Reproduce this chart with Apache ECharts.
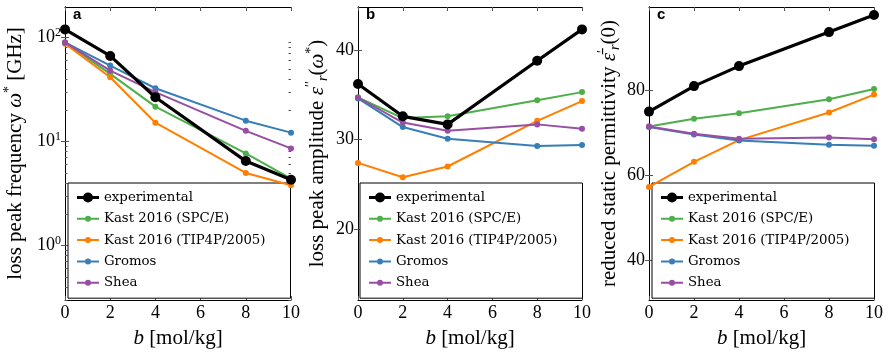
<!DOCTYPE html>
<html>
<head>
<meta charset="utf-8">
<script src="https://cdn.jsdelivr.net/npm/echarts@6/dist/echarts.min.js"></script>
<style>html,body{margin:0;padding:0;background:#fff}#chart{width:896px;height:352px}</style>
</head>
<body>
<div id="chart"></div>
<script>
// ---- data ----
const bValues = [0, 2, 4, 8, 10];
const seriesNames = ['experimental', 'Kast 2016 (SPC/E)', 'Kast 2016 (TIP4P/2005)', 'Gromos', 'Shea'];

// panel a: loss peak frequency [GHz]
const freqExp    = [120, 66.7, 26.7, 6.5, 4.3];
const freqSPCE   = [90, 44.8, 21.7, 7.7, 4.4];
const freqTIP4P  = [87.5, 41.6, 15.2, 5.0, 3.8];
const freqGromos = [90, 53.8, 32.6, 15.9, 12.2];
const freqShea   = [90, 48.2, 29.9, 12.7, 8.6];

// panel b: loss peak amplitude
const ampExp    = [36.2, 32.6, 31.7, 38.8, 42.3];
const ampSPCE   = [34.7, 32.4, 32.6, 34.4, 35.3];
const ampTIP4P  = [27.4, 25.8, 27.0, 32.1, 34.3];
const ampGromos = [34.6, 31.4, 30.1, 29.3, 29.4];
const ampShea   = [34.7, 31.9, 31.0, 31.7, 31.2];

// panel c: reduced static permittivity
const permExp    = [74.9, 80.9, 85.6, 93.6, 97.6];
const permSPCE   = [71.4, 73.2, 74.5, 77.8, 80.2];
const permTIP4P  = [57.2, 63.1, 68.2, 74.7, 78.9];
const permGromos = [71.3, 69.5, 68.1, 67.1, 66.9];
const permShea   = [71.4, 69.7, 68.5, 68.8, 68.4];

// tick labels
const xTicks = [0, 2, 4, 6, 8, 10];
const freqTicks = [1, 10, 100];
const freqMinorTicks = [0.3, 0.4, 0.5, 0.6, 0.7, 0.8, 0.9, 2, 3, 4, 5, 6, 7, 8, 9, 20, 30, 40, 50, 60, 70, 80, 90];
const ampTicks = [20, 30, 40];
const permTicks = [40, 60, 80];
const panelLetters = ['a', 'b', 'c'];

// ---- styling / layout ----
const colors = ['#000000', '#4daf4a', '#ff7f00', '#377eb8', '#984ea3'];
const SERIF = 'Liberation Serif';
const LEGEND_FONT = 'DejaVu Serif';
const grids = [
  {left: 65, top: 7, width: 226, height: 293},
  {left: 358, top: 7, width: 224, height: 293},
  {left: 649, top: 7, width: 225, height: 293}
];
const legendLefts = [68, 360, 652];
// legend icons: line + circle marker (filled path)
const iconBig = 'path://M0,3.5L22,3.5L22,6.5L0,6.5Z M6,5A5,5,0,1,1,16,5A5,5,0,1,1,6,5Z';
const iconSmall = 'path://M0,2L22,2L22,4L0,4Z M8,3A3,3,0,1,1,14,3A3,3,0,1,1,8,3Z';

const panels = [
  {data: [freqExp, freqSPCE, freqTIP4P, freqGromos, freqShea], type: 'log', min: 0.3, max: 197,
   ticks: freqTicks, minor: freqMinorTicks, nameGap: 36.5,
   name: '{t|loss peak frequency }{i|ω}{sup|*}{t| [GHz]}'},
  {data: [ampExp, ampSPCE, ampTIP4P, ampGromos, ampShea], type: 'value', min: 12.1, max: 44.8,
   ticks: ampTicks, nameGap: 27.5,
   name: '{t|loss peak amplitude }{i|ε}{sup|′′}{sub|r}{t|(}{i|ω}{sup|*}{t|)}'},
  {data: [permExp, permSPCE, permTIP4P, permGromos, permShea], type: 'value', min: 30.6, max: 99.5,
   ticks: permTicks, nameGap: 27,
   name: '{t|reduced static permittivity }{i|ε̄}{sup|′}{sub|r}{t|(0)}'}
];

const nameRich = {
  t: {fontFamily: SERIF, fontSize: 21, lineHeight: 26, color: '#000'},
  i: {fontFamily: SERIF, fontSize: 21, fontStyle: 'italic', lineHeight: 26, color: '#000'},
  sup: {fontFamily: SERIF, fontSize: 14, lineHeight: 14, verticalAlign: 'top', color: '#000'},
  sub: {fontFamily: SERIF, fontSize: 14, fontStyle: 'italic', lineHeight: 14, verticalAlign: 'bottom', color: '#000'}
};
const labelRich = {
  t: {fontFamily: SERIF, fontSize: 18, lineHeight: 22, color: '#000'},
  sup: {fontFamily: SERIF, fontSize: 12, lineHeight: 12, verticalAlign: 'top', color: '#000'}
};

const axisLine = {show: true, lineStyle: {color: '#000', width: 1}};
const tickStyle = {color: '#555', width: 1};

const option = {
  animation: false,
  backgroundColor: '#fff',
  grid: grids.map(g => Object.assign({containLabel: false, outerBoundsMode: 'none'}, g)),
  title: panelLetters.map((t, i) => ({
    text: t, left: grids[i].left + 8, top: 7, padding: 0,
    textStyle: {fontFamily: 'Liberation Sans', fontWeight: 'bold', fontSize: 15, color: '#000'}
  })),
  legend: legendLefts.map(l => ({
    left: l, top: 183, orient: 'vertical', z: 1,
    itemWidth: 22, itemHeight: 14, itemGap: 7.3,
    padding: [7.5, 25, 8.5, 9],
    borderColor: '#000', borderWidth: 1, borderRadius: 0, backgroundColor: '#fff',
    selectedMode: false,
    textStyle: {fontFamily: LEGEND_FONT, fontSize: 13.3, color: '#000', lineHeight: 14},
    data: seriesNames.map((n, k) => ({name: n, icon: k === 0 ? iconBig : iconSmall}))
  })),
  xAxis: [], yAxis: [], series: []
};

panels.forEach((p, i) => {
  const xi = option.xAxis.length;
  option.xAxis.push({
    gridIndex: i, type: 'value', min: 0, max: 10, interval: 2, position: 'bottom',
    axisLine, axisTick: {inside: true, length: 4, lineStyle: tickStyle},
    axisLabel: {margin: 4, fontFamily: SERIF, fontSize: 18, color: '#000'},
    splitLine: {show: false},
    name: '{i|b}{t| [mol/kg]}', nameLocation: 'middle', nameGap: 25,
    nameTextStyle: {rich: nameRich}
  });
  option.xAxis.push({
    gridIndex: i, type: 'value', min: 0, max: 10, interval: 2, position: 'top',
    axisLine, axisTick: {inside: true, length: 4, lineStyle: tickStyle},
    axisLabel: {show: false}, splitLine: {show: false}
  });
  const yi = option.yAxis.length;
  const labelCfg = p.type === 'log'
    ? {customValues: p.ticks, margin: 4, formatter: v => '{t|10}{sup|' + Math.round(Math.log10(v)) + '}', rich: labelRich}
    : {customValues: p.ticks, margin: 4, fontFamily: SERIF, fontSize: 18, color: '#000'};
  option.yAxis.push({
    gridIndex: i, type: p.type, min: p.min, max: p.max, position: 'left',
    axisLine, axisTick: {inside: true, length: 4, customValues: p.ticks, lineStyle: tickStyle},
    axisLabel: labelCfg, splitLine: {show: false}, minorTick: {show: false},
    name: p.name, nameLocation: 'middle', nameGap: p.nameGap, nameRotate: 90,
    nameTextStyle: {rich: nameRich}
  });
  option.yAxis.push({
    gridIndex: i, type: p.type, min: p.min, max: p.max, position: 'right',
    axisLine, axisTick: {inside: true, length: 4, customValues: p.ticks, lineStyle: tickStyle},
    axisLabel: {show: false}, splitLine: {show: false}
  });
  if (p.minor) {
    ['left', 'right'].forEach(pos => option.yAxis.push({
      gridIndex: i, type: p.type, min: p.min, max: p.max, position: pos, offset: 0,
      axisLine: {show: false}, axisTick: {inside: true, length: 2.5, customValues: p.minor, lineStyle: tickStyle},
      axisLabel: {show: false}, splitLine: {show: false}
    }));
  }
  // colored series first, experimental on top
  [1, 2, 3, 4, 0].forEach(k => {
    const exp = k === 0;
    option.series.push({
      type: 'line', name: seriesNames[k], xAxisIndex: xi, yAxisIndex: yi,
      data: bValues.map((b, j) => [b, p.data[k][j]]),
      symbol: 'circle', symbolSize: exp ? 10 : 6, showSymbol: true,
      lineStyle: {color: colors[k], width: exp ? 3.2 : 2},
      itemStyle: {color: colors[k]},
      z: exp ? 4 : 3, silent: true
    });
  });
});

const chart = echarts.init(document.getElementById('chart'), null, {renderer: 'canvas'});
chart.setOption(option);
</script>
</body>
</html>
